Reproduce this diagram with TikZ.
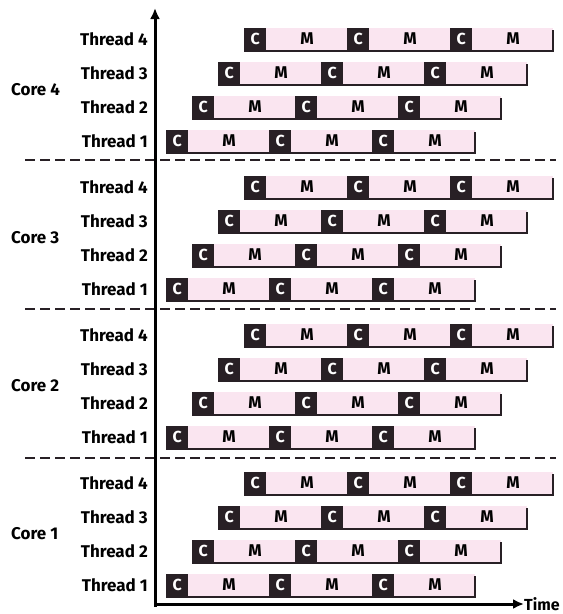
\documentclass[tikz,border=0pt]{standalone}
\usepackage{fontspec}
\setmainfont{Fira Sans}
\usetikzlibrary{arrows.meta, positioning}
\definecolor{barPink}{RGB}{250,229,240}
\definecolor{boxDark}{RGB}{40,32,37}
\tikzset{
  cbox/.style={fill=boxDark, text=white, minimum width=22pt, minimum height=23pt,
               inner sep=0pt, font=\bfseries\fontsize{16}{16}\selectfont},
  mseg/.style={minimum width=81pt, inner sep=0pt,
               font=\bfseries\fontsize{17}{17}\selectfont},
  barline/.style={boxDark, line width=2.8pt},
  thrlabel/.style={anchor=east, inner sep=0pt, font=\bfseries\fontsize{17}{17}\selectfont},
  corelabel/.style={anchor=west, inner sep=0pt, font=\bfseries\fontsize{17}{17}\selectfont},
  sep/.style={boxDark, line width=2.6pt, dash pattern=on 10pt off 5pt},
  axis/.style={black, line width=3pt, -{Latex[length=11pt, width=10pt]}},
}

\begin{document}
\begin{tikzpicture}[x=1pt, y=-1pt]
  \useasboundingbox (0,0) rectangle (563,614);
  % ================= one group of four threads per core =================
  \foreach \cor [count=\g from 0] in {4,3,2,1} {
    \node[corelabel] (core\cor) at (11,{141+148*\g-51}) {Core \cor};
    \foreach \thr in {1,...,4} {
      \pgfmathsetmacro{\yy}{141+148*\g-34*(\thr-1)}
      \pgfmathsetmacro{\xx}{166+26*(\thr-1)}
      \node[thrlabel] (c\cor-t\thr) at (148,\yy) {Thread \thr};
      % pink bar with its dark base and end tick
      \fill[barPink] (\xx,\yy-11) rectangle (\xx+309,\yy+12);
      \draw[barline] (\xx,\yy+12) -- (\xx+309,\yy+12) -- (\xx+309,\yy-9);
      % compute / memory phases
      \foreach \k in {0,1,2} {
        \node[cbox, anchor=west] (c\cor-t\thr-c\k) at (\xx+103*\k,\yy) {C};
        \node[mseg, right=0pt of c\cor-t\thr-c\k] (c\cor-t\thr-m\k) {M};
      }
    }
  }
  % separators between cores
  \foreach \yy in {160,309,458}
    \draw[sep] (25,\yy) -- (556,\yy);
  % axes
  \node[anchor=west, inner sep=0pt, font=\bfseries\fontsize{16}{16}\selectfont]
    (time) at (524,604) {Time};
  \coordinate (origin) at (155,604);
  \coordinate (ytop) at (155,8);
  \draw[axis] (155,607) -- (ytop);
  \draw[axis] (origin) -- (time.west);
\end{tikzpicture}
\end{document}
